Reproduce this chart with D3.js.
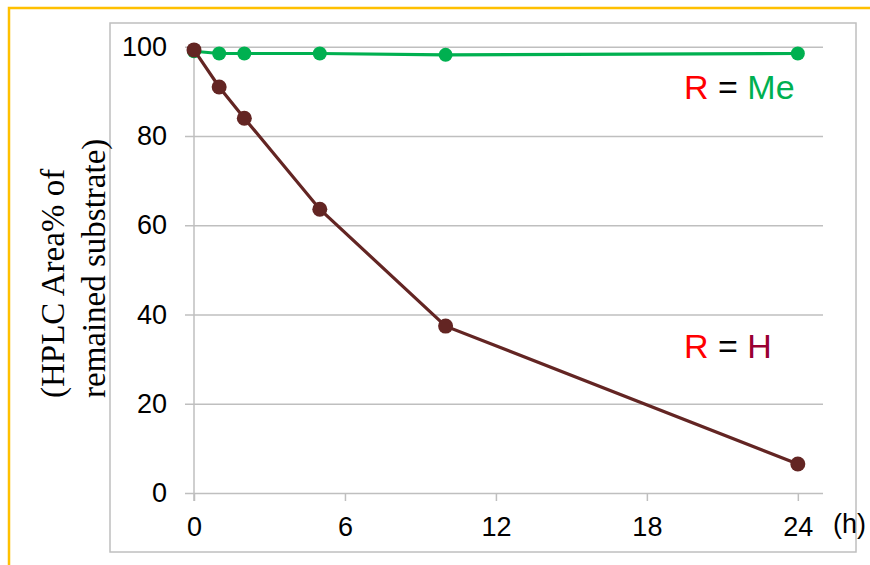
<!DOCTYPE html>
<html>
<head>
<meta charset="utf-8">
<script src="https://cdn.jsdelivr.net/npm/d3@7"></script>
<style>
  body { margin: 0; background: #fff; }
  svg { display: block; }
</style>
</head>
<body>
<svg width="870" height="565"></svg>
<script>
  'use strict';

  // time points (h)
  var hours = [0, 1, 2, 5, 10, 24];
  // HPLC area% of remained substrate
  var valuesMe = [99.0, 98.5, 98.5, 98.5, 98.2, 98.5];   // R = Me
  var valuesH = [99.3, 91.0, 84.0, 63.6, 37.4, 6.5];     // R = H
  var xTicks = [0, 6, 12, 18, 24];
  var yTicks = [0, 20, 40, 60, 80, 100];

  var svg = d3.select("svg");

  // outer orange frame (only top and left visible)
  svg.append("path")
    .attr("d", "M9,565V8H870")
    .attr("fill", "none")
    .attr("stroke", "#FFC000")
    .attr("stroke-width", 2.5);

  // gray chart box
  svg.append("rect")
    .attr("x", 110).attr("y", 23)
    .attr("width", 746).attr("height", 529)
    .attr("fill", "#fff")
    .attr("stroke", "#BFBFBF")
    .attr("stroke-width", 1.5);

  var x = d3.scaleLinear().domain([0, 25]).range([194, 823]),
      y = d3.scaleLinear().domain([0, 100]).range([493, 46.8]);

  // y gridlines + labels
  var yAxis = svg.append("g")
    .attr("transform", "translate(185,0)")
    .call(d3.axisLeft(y).tickValues(yTicks).tickSize(-(823 - 185)).tickPadding(18));
  yAxis.select(".domain").remove();
  yAxis.selectAll("line").attr("stroke", "#BFBFBF").attr("stroke-width", 1.5);
  yAxis.selectAll("text")
    .attr("font-family", "'Liberation Sans', Arial, sans-serif")
    .attr("font-size", 27)
    .attr("fill", "#000");

  // x ticks + labels
  var xAxis = svg.append("g")
    .attr("transform", "translate(0," + y(0) + ")")
    .call(d3.axisBottom(x).tickValues(xTicks).tickSize(8).tickPadding(16));
  xAxis.select(".domain").remove();
  xAxis.selectAll("line").attr("stroke", "#BFBFBF").attr("stroke-width", 1.5);
  xAxis.selectAll("text")
    .attr("font-family", "'Liberation Sans', Arial, sans-serif")
    .attr("font-size", 27)
    .attr("fill", "#000");

  // vertical axis line
  svg.append("line")
    .attr("x1", x(0)).attr("x2", x(0))
    .attr("y1", y(100)).attr("y2", y(0) + 8)
    .attr("stroke", "#BFBFBF")
    .attr("stroke-width", 1.5);

  // unit label
  svg.append("text")
    .attr("x", 833).attr("y", 533)
    .attr("font-family", "'Liberation Sans', Arial, sans-serif")
    .attr("font-size", 27)
    .attr("fill", "#000")
    .text("(h)");

  // y axis title, two lines rotated
  var title = svg.append("text")
    .attr("transform", "translate(64,398) rotate(-90)")
    .attr("font-family", "'Liberation Serif', 'Times New Roman', serif")
    .attr("font-size", 33)
    .attr("fill", "#000");
  title.append("tspan").attr("x", 0).attr("y", 0).text("(HPLC Area% of");
  title.append("tspan").attr("x", 0).attr("y", 41).text("remained substrate)");

  var series = [
    {values: valuesMe, color: "#00B050", r: 7},
    {values: valuesH, color: "#632523", r: 7.5}
  ];

  var line = d3.line()
    .x(function(d) { return x(d[0]); })
    .y(function(d) { return y(d[1]); });

  series.forEach(function(s) {
    var pts = hours.map(function(h, i) { return [h, s.values[i]]; });
    svg.append("path")
      .datum(pts)
      .attr("d", line)
      .attr("fill", "none")
      .attr("stroke", s.color)
      .attr("stroke-width", 3.2);
    svg.append("g").selectAll("circle")
      .data(pts)
      .enter().append("circle")
      .attr("cx", function(d) { return x(d[0]); })
      .attr("cy", function(d) { return y(d[1]); })
      .attr("r", s.r)
      .attr("fill", s.color);
  });

  // series labels
  function seriesLabel(xp, yp, name, color) {
    var t = svg.append("text")
      .attr("x", xp).attr("y", yp)
      .attr("font-family", "'Liberation Sans', Arial, sans-serif")
      .attr("font-size", 34);
    t.append("tspan").attr("fill", "#FF0000").text("R");
    t.append("tspan").attr("fill", "#000").text(" = ");
    t.append("tspan").attr("fill", color).text(name);
  }
  seriesLabel(684, 99, "Me", "#00B050");
  seriesLabel(684, 358, "H", "#990033");
</script>
</body>
</html>
